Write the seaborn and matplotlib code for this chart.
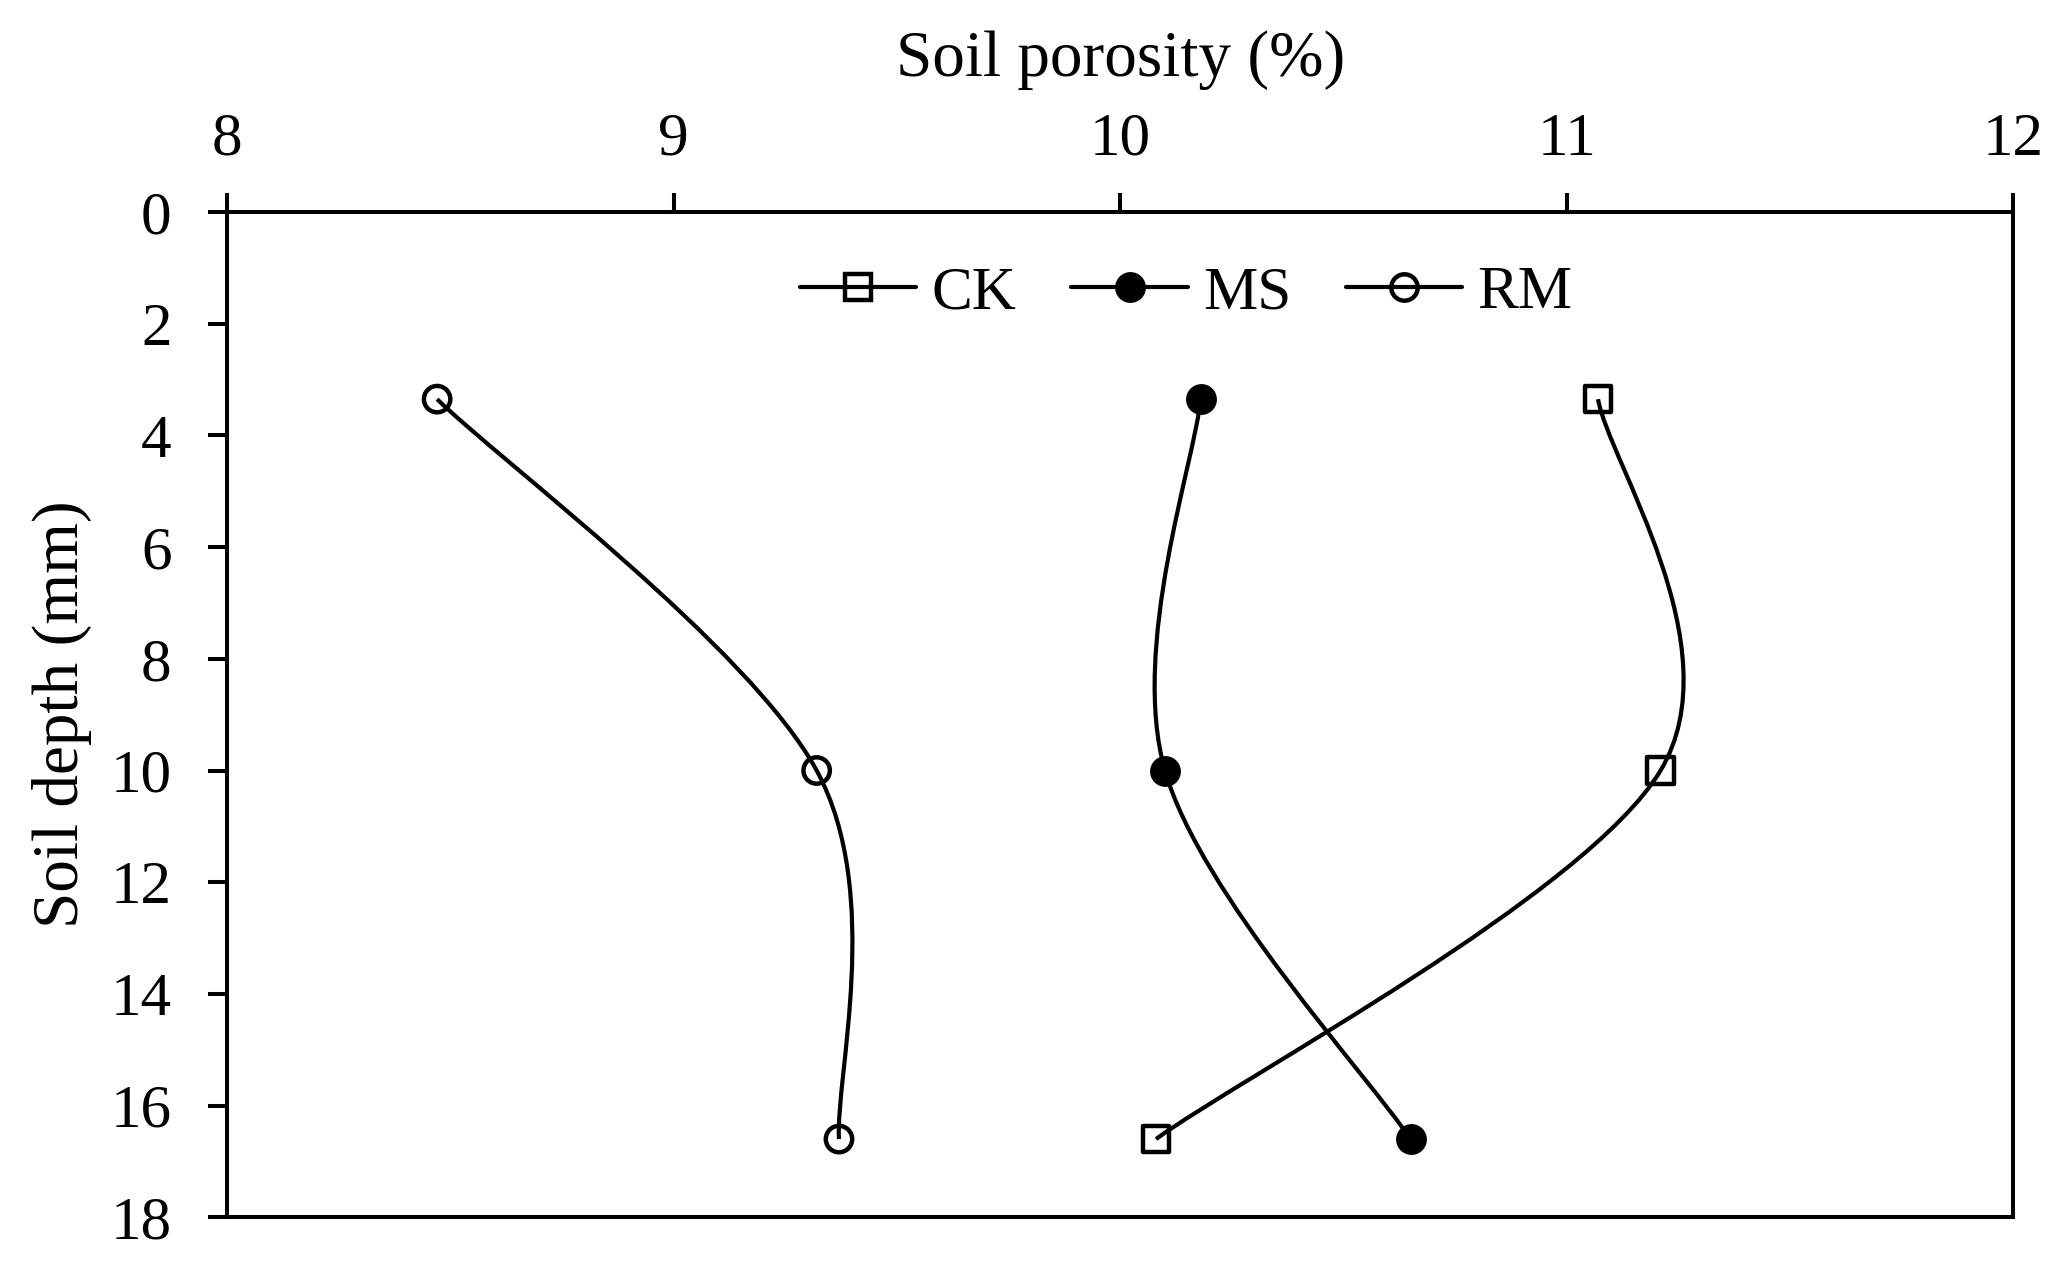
import numpy as np
import pandas as pd
import seaborn as sns
import matplotlib.pyplot as plt
from matplotlib.path import Path
from matplotlib.patches import PathPatch
from matplotlib.lines import Line2D

# ---- data ----
depth = [3.35, 10.0, 16.6]
ck = [11.07, 11.21, 10.08]
ms = [10.18, 10.10, 10.65]
rm = [8.47, 9.32, 9.37]
series_names = ["CK", "MS", "RM"]
x_ticks = [8, 9, 10, 11, 12]
y_ticks = [0, 2, 4, 6, 8, 10, 12, 14, 16, 18]
x_label = "Soil porosity (%)"
y_label = "Soil depth (mm)"

sns.set_theme(style="white")
plt.rcParams['font.family'] = ['Liberation Serif', 'DejaVu Serif']
plt.rcParams['text.color'] = 'black'
plt.rcParams['axes.labelcolor'] = 'black'
plt.rcParams['xtick.color'] = 'black'
plt.rcParams['ytick.color'] = 'black'

FS = 22
LFS = 23.5
fig = plt.figure(figsize=(10.33, 6.33), dpi=200)
ax = fig.add_axes([0.110, 0.0385, 0.8645, 0.794])

df = pd.DataFrame({
    "depth": depth * 3,
    "porosity": ck + ms + rm,
    "series": [s for s in series_names for _ in depth],
})

styles = {
    "CK": dict(marker="s", fc="none"),
    "MS": dict(marker="o", fc="black"),
    "RM": dict(marker="o", fc="none"),
}


def smooth_path(xs, ys):
    P = np.column_stack([xs, ys]).astype(float)
    n = len(P)
    verts = [P[0]]
    codes = [Path.MOVETO]
    for i in range(n - 1):
        p_prev = P[i - 1] if i > 0 else P[i]
        p_next = P[i + 2] if i + 2 < n else P[i + 1]
        c1 = P[i] + (P[i + 1] - p_prev) / 6.0
        c2 = P[i + 1] - (p_next - P[i]) / 6.0
        verts += [c1, c2, P[i + 1]]
        codes += [Path.CURVE4] * 3
    return Path(verts, codes)


LW = 1.5
MS_ = 9.5
for name in series_names:
    sub = df[df["series"] == name]
    path = smooth_path(sub["porosity"].values, sub["depth"].values)
    ax.add_patch(PathPatch(path, facecolor="none", edgecolor="black",
                           lw=LW, transform=ax.transData, zorder=2))
    st = styles[name]
    sns.scatterplot(data=sub, x="porosity", y="depth", marker=st["marker"],
                    s=MS_ ** 2, facecolor=st["fc"], edgecolor="black",
                    linewidth=1.6, ax=ax, zorder=3, legend=False)

ax.set_xlim(8, 12)
ax.set_ylim(18, 0)
ax.set_xticks(x_ticks)
ax.set_yticks(y_ticks)
ax.xaxis.tick_top()
ax.xaxis.set_label_position("top")
ax.set_xlabel(x_label, fontsize=LFS, color="black")
ax.set_ylabel(y_label, fontsize=LFS, color="black")
ax.xaxis.set_label_coords(0.5, 1.135)
ax.yaxis.set_label_coords(-0.076, 0.5)

for sp in ax.spines.values():
    sp.set_visible(True)
    sp.set_color("black")
    sp.set_linewidth(1.45)

ax.tick_params(axis="both", which="major", direction="out", length=7,
               width=1.45, color="black", labelsize=FS, labelcolor="black")
ax.tick_params(axis="x", pad=9, top=True, bottom=False)
ax.tick_params(axis="y", pad=13, left=True, right=False)
ax.grid(False)

handles = [Line2D([], [], color="black", lw=LW, marker=styles[n]["marker"],
                  mfc=styles[n]["fc"], mec="black", mew=1.6, ms=MS_)
           for n in series_names]
leg = ax.legend(handles, series_names, loc="center",
                bbox_to_anchor=(0.537, 0.919), ncol=3, frameon=False,
                fontsize=FS, handlelength=1.9, handletextpad=0.25,
                columnspacing=0.9)
for t in leg.get_texts():
    t.set_color("black")

fig.savefig("out.png", dpi=200, facecolor="white")
